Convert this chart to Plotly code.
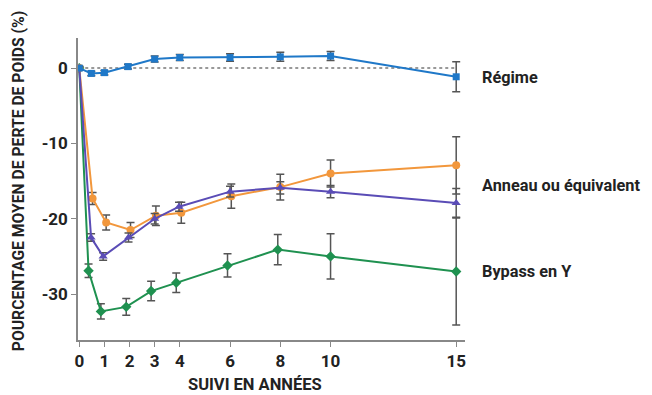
import plotly.graph_objects as go

# Data (years, mean % weight change, error)
regime_x = [0, 0.48, 1.0, 1.94, 3.0, 4.0, 6.0, 8.0, 10.0, 15.0]
regime_y = [0, -0.7, -0.6, 0.2, 1.2, 1.4, 1.4, 1.5, 1.6, -1.15]
regime_e = [0.2, 0.3, 0.3, 0.3, 0.4, 0.4, 0.5, 0.6, 0.6, 2.0]

anneau_x = [0, 0.53, 1.07, 2.04, 3.05, 4.06, 6.05, 8.0, 10.0, 15.0]
anneau_y = [0, -17.3, -20.5, -21.5, -19.6, -19.2, -17.0, -15.8, -14.0, -12.9]
anneau_e = [0.2, 0.8, 1.0, 1.0, 1.3, 1.4, 1.6, 1.7, 1.8, 3.8]

bypass_y_x = [0, 0.47, 0.95, 1.96, 3.0, 3.97, 6.0, 8.0, 10.0, 15.0]
bypass_y_y = [0, -22.5, -25.0, -22.5, -20.0, -18.4, -16.4, -15.9, -16.4, -17.9]
bypass_y_e = [0.2, 0.5, 0.5, 0.6, 0.7, 0.6, 0.7, 0.8, 0.8, 1.9]

gastric_x = [0, 0.37, 0.86, 1.87, 2.86, 3.86, 5.9, 7.9, 10.0, 15.0]
gastric_y = [0, -26.9, -32.3, -31.7, -29.6, -28.5, -26.2, -24.1, -25.0, -27.0]
gastric_e = [0.2, 0.9, 1.0, 1.1, 1.3, 1.3, 1.55, 2.0, 3.0, 7.1]

x_ticks = [0, 1, 2, 3, 4, 6, 8, 10, 15]
y_ticks = [0, -10, -20, -30]
y_tick_labels = ["0", "-10", "-20", "-30"]

labels = ["Régime", "Anneau ou équivalent", "Bypass en Y"]
label_y = [-1.2, -15.6, -27.0]

fig = go.Figure()

# dotted reference line at 0
fig.add_trace(go.Scatter(x=[0, 15], y=[0, 0], mode="lines",
                         line=dict(color="#999999", width=2, dash="dot"),
                         hoverinfo="skip", showlegend=False))

series = [
    (gastric_x, gastric_y, gastric_e, "#1f9150", "diamond", 8),
    (anneau_x, anneau_y, anneau_e, "#f2973c", "circle", 8),
    (bypass_y_x, bypass_y_y, bypass_y_e, "#5a4cb6", "triangle-up", 8),
    (regime_x, regime_y, regime_e, "#1f78c8", "square", 7),
]
for xs, ys, es, col, sym, sz in series:
    fig.add_trace(go.Scatter(
        x=xs, y=ys, mode="lines+markers",
        line=dict(color=col, width=2),
        marker=dict(color=col, symbol=sym, size=sz),
        error_y=dict(type="data", array=es, visible=True,
                     color="#555555", thickness=1.5, width=4),
        showlegend=False))

for t, yv in zip(labels, label_y):
    fig.add_annotation(x=1.038, xref="paper", y=yv, yref="y", text="<b>" + t + "</b>",
                       showarrow=False, xanchor="left", yanchor="middle",
                       font=dict(family="Roboto", size=16.3, color="#222222"))

# axis titles as annotations for exact placement
fig.add_annotation(x=-0.155, xref="paper", y=0.526, yref="paper",
                   text="<b>POURCENTAGE MOYEN DE PERTE DE POIDS (%)</b>",
                   textangle=-90, showarrow=False, xanchor="center", yanchor="middle",
                   font=dict(family="Roboto", size=15.7, color="#222222"))
fig.add_annotation(x=0.457, xref="paper", y=-0.147, yref="paper",
                   text="<b>SUIVI EN ANNÉES</b>",
                   showarrow=False, xanchor="center", yanchor="middle",
                   font=dict(family="Roboto", size=16.5, color="#222222"))

fig.update_xaxes(range=[-0.05, 15.35], tickvals=x_ticks,
                 ticktext=["<b>%d</b>" % v for v in x_ticks],
                 showgrid=False, zeroline=False, showline=True, automargin=False,
                 linecolor="#888888", linewidth=1.5, ticks="outside",
                 ticklen=5, tickcolor="#888888",
                 tickfont=dict(family="Roboto", size=17, color="#222222"))
fig.update_yaxes(range=[-36.1, 4.0], tickvals=y_ticks,
                 ticktext=["<b>%s</b>" % s for s in y_tick_labels],
                 showgrid=False, zeroline=False, showline=True, automargin=False,
                 linecolor="#888888", linewidth=1.5, ticks="outside",
                 ticklen=5, tickcolor="#888888",
                 tickfont=dict(family="Roboto", size=17, color="#222222"))

# page body has an 8px default margin, so the figure is offset by 8px
fig.update_layout(width=644, height=387, margin=dict(l=70, r=187, t=30, b=55),
                  plot_bgcolor="white", paper_bgcolor="white")

fig.write_html("out.html")
